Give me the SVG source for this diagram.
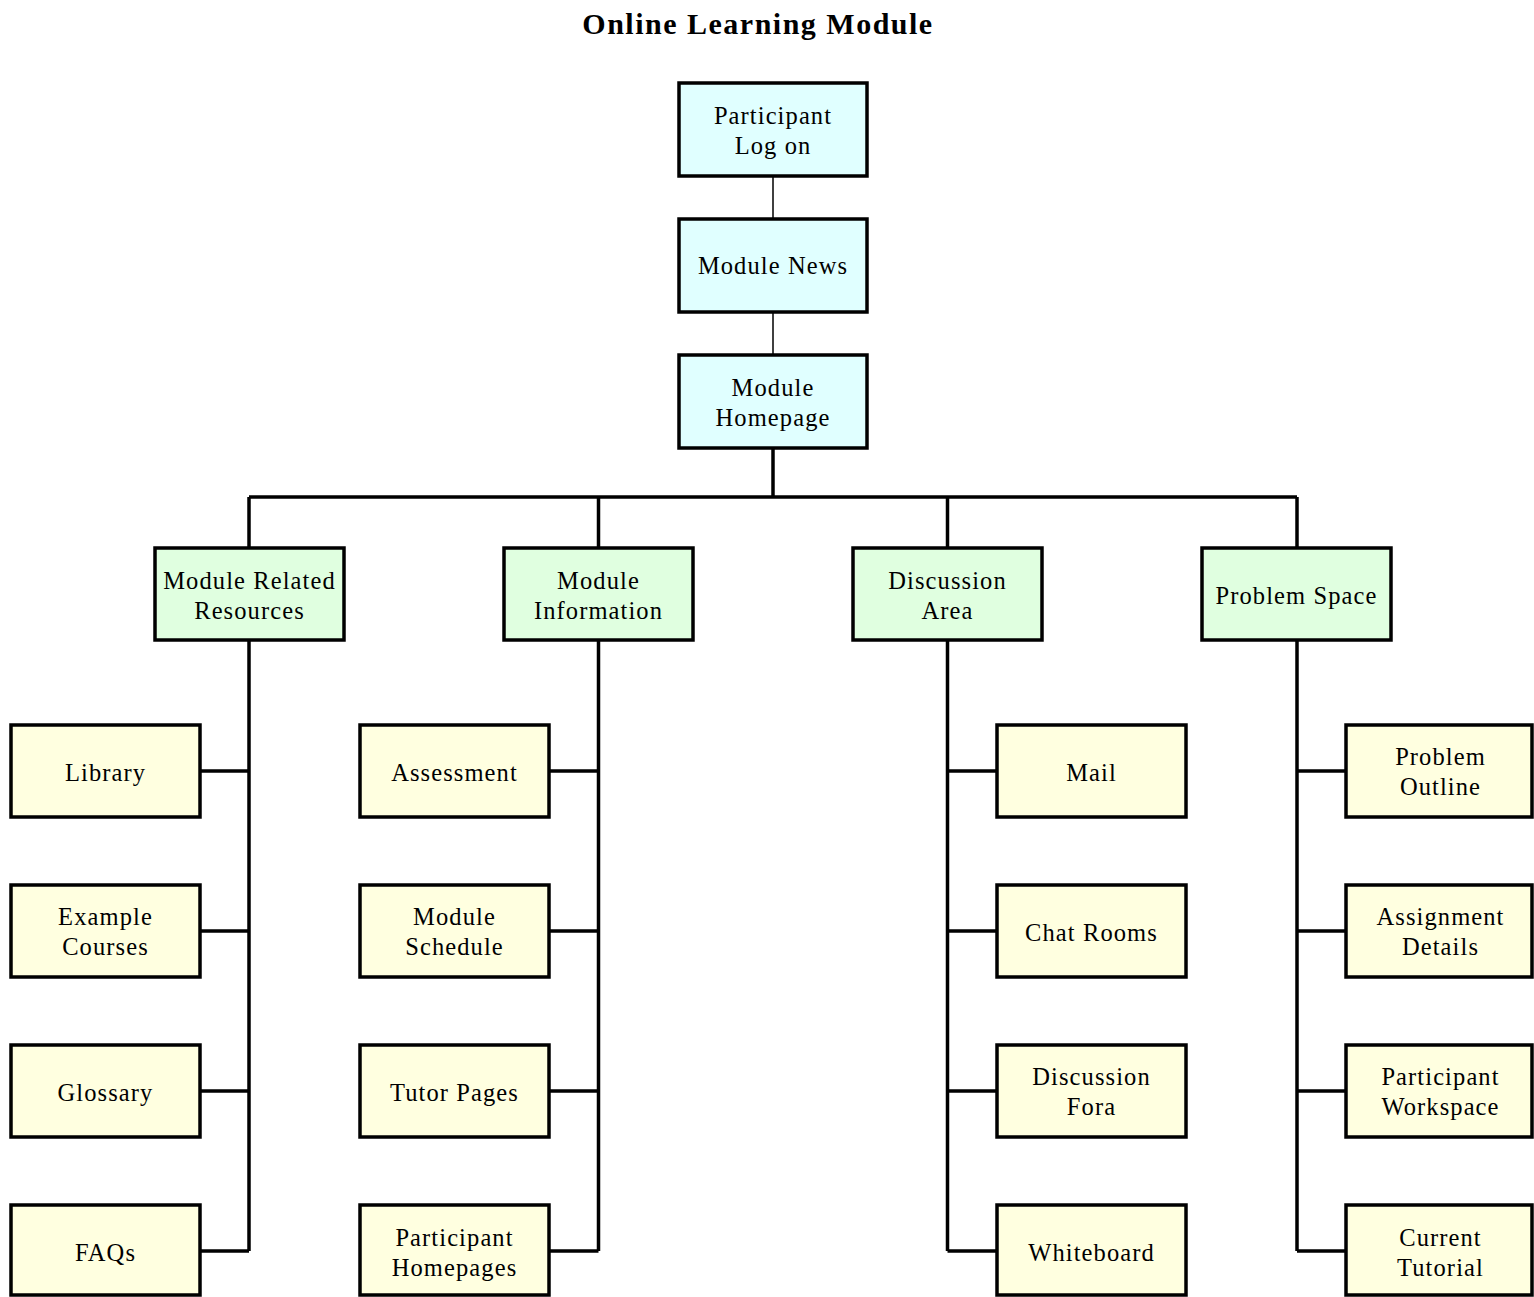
<svg xmlns="http://www.w3.org/2000/svg" width="1534" height="1297" viewBox="0 0 1534 1297">
<style>
.box{stroke:#000;stroke-width:3.5}
.top{fill:#e0ffff}
.mid{fill:#e0ffe0}
.leaf{fill:#ffffe0}
text{font-family:"Liberation Serif","Times New Roman",serif;font-size:24.5px;text-anchor:middle;fill:#000;letter-spacing:1.1px}
.title{font-size:30px;font-weight:bold;letter-spacing:1.5px}
.thin{stroke:#000;stroke-width:1.5;fill:none}
.thick{stroke:#000;stroke-width:3.5;fill:none}
</style>
<rect width="1534" height="1297" fill="#fff"/>
<text class="title" x="758" y="34">Online Learning Module</text>
<g id="connectors">
<line class="thin" x1="773" y1="176" x2="773" y2="219"/>
<line class="thin" x1="773" y1="312" x2="773" y2="355"/>
<line class="thick" x1="773" y1="448" x2="773" y2="497"/>
<line class="thick" x1="249" y1="497" x2="1297" y2="497"/>
<line class="thick" x1="249" y1="497" x2="249" y2="548"/>
<line class="thick" x1="598.5" y1="497" x2="598.5" y2="548"/>
<line class="thick" x1="947.5" y1="497" x2="947.5" y2="548"/>
<line class="thick" x1="1297" y1="497" x2="1297" y2="548"/>
<path class="thick" d="M249 640V1251M200 771H249M200 931H249M200 1091H249M200 1251H249"/>
<path class="thick" d="M598.5 640V1251M549 771H598.5M549 931H598.5M549 1091H598.5M549 1251H598.5"/>
<path class="thick" d="M947.5 640V1251M947.5 771H997M947.5 931H997M947.5 1091H997M947.5 1251H997"/>
<path class="thick" d="M1297 640V1251M1297 771H1346M1297 931H1346M1297 1091H1346M1297 1251H1346"/>
</g>
<g id="n-login"><rect class="box top" x="679" y="83" width="188" height="93"/><text x="773" y="124">Participant</text><text x="773" y="154">Log on</text></g>
<g id="n-news"><rect class="box top" x="679" y="219" width="188" height="93"/><text x="773" y="274">Module News</text></g>
<g id="n-home"><rect class="box top" x="679" y="355" width="188" height="93"/><text x="773" y="396">Module</text><text x="773" y="426">Homepage</text></g>
<g id="n-resources"><rect class="box mid" x="155" y="548" width="189" height="92"/><text x="249.5" y="589">Module Related</text><text x="249.5" y="619">Resources</text></g>
<g id="n-info"><rect class="box mid" x="504" y="548" width="189" height="92"/><text x="598.5" y="589">Module</text><text x="598.5" y="619">Information</text></g>
<g id="n-discussion"><rect class="box mid" x="853" y="548" width="189" height="92"/><text x="947.5" y="589">Discussion</text><text x="947.5" y="619">Area</text></g>
<g id="n-problem"><rect class="box mid" x="1202" y="548" width="189" height="92"/><text x="1296.5" y="604">Problem Space</text></g>
<g id="n-library"><rect class="box leaf" x="11" y="725" width="189" height="92"/><text x="105.5" y="781">Library</text></g>
<g id="n-example"><rect class="box leaf" x="11" y="885" width="189" height="92"/><text x="105.5" y="925">Example</text><text x="105.5" y="955">Courses</text></g>
<g id="n-glossary"><rect class="box leaf" x="11" y="1045" width="189" height="92"/><text x="105.5" y="1101">Glossary</text></g>
<g id="n-faqs"><rect class="box leaf" x="11" y="1205" width="189" height="90"/><text x="105.5" y="1261">FAQs</text></g>
<g id="n-assessment"><rect class="box leaf" x="360" y="725" width="189" height="92"/><text x="454.5" y="781">Assessment</text></g>
<g id="n-schedule"><rect class="box leaf" x="360" y="885" width="189" height="92"/><text x="454.5" y="925">Module</text><text x="454.5" y="955">Schedule</text></g>
<g id="n-tutor"><rect class="box leaf" x="360" y="1045" width="189" height="92"/><text x="454.5" y="1101">Tutor Pages</text></g>
<g id="n-homepages"><rect class="box leaf" x="360" y="1205" width="189" height="90"/><text x="454.5" y="1246">Participant</text><text x="454.5" y="1276">Homepages</text></g>
<g id="n-mail"><rect class="box leaf" x="997" y="725" width="189" height="92"/><text x="1091.5" y="781">Mail</text></g>
<g id="n-chat"><rect class="box leaf" x="997" y="885" width="189" height="92"/><text x="1091.5" y="941">Chat Rooms</text></g>
<g id="n-fora"><rect class="box leaf" x="997" y="1045" width="189" height="92"/><text x="1091.5" y="1085">Discussion</text><text x="1091.5" y="1115">Fora</text></g>
<g id="n-whiteboard"><rect class="box leaf" x="997" y="1205" width="189" height="90"/><text x="1091.5" y="1261">Whiteboard</text></g>
<g id="n-outline"><rect class="box leaf" x="1346" y="725" width="186" height="92"/><text x="1440.5" y="765">Problem</text><text x="1440.5" y="795">Outline</text></g>
<g id="n-assignment"><rect class="box leaf" x="1346" y="885" width="186" height="92"/><text x="1440.5" y="925">Assignment</text><text x="1440.5" y="955">Details</text></g>
<g id="n-workspace"><rect class="box leaf" x="1346" y="1045" width="186" height="92"/><text x="1440.5" y="1085">Participant</text><text x="1440.5" y="1115">Workspace</text></g>
<g id="n-current"><rect class="box leaf" x="1346" y="1205" width="186" height="90"/><text x="1440.5" y="1246">Current</text><text x="1440.5" y="1276">Tutorial</text></g>
</svg>
